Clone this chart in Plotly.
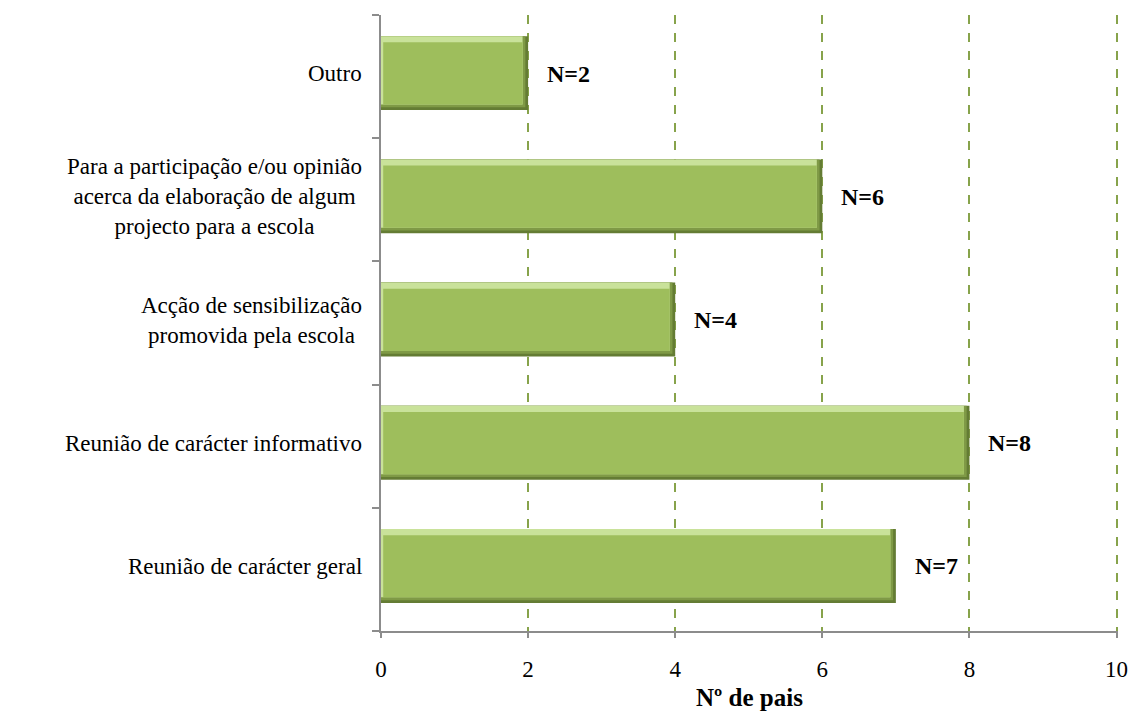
import plotly.graph_objects as go

categories = [
    "Reunião de carácter geral",
    "Reunião de carácter informativo",
    "Acção de sensibilização<br>promovida pela escola",
    "Para a participação e/ou opinião<br>acerca da elaboração de algum<br>projecto para a escola",
    "Outro",
]
values = [7, 8, 4, 6, 2]
value_labels = ["N=7", "N=8", "N=4", "N=6", "N=2"]
x_ticks = [0, 2, 4, 6, 8, 10]
x_title = "<b>Nº de pais</b>"

FONT = "Liberation Serif"
BW = 0.6          # bar thickness (category units)
SHIFT = 0.028     # small upward shift of bars within band
EDGE_B = 0.045    # bottom dark strip
EDGE_T = 0.05     # top light strip
EDGE_R = 0.075    # right dark strip (x units)
EDGE_L = 0.03     # left light strip
OFF0 = -BW / 2 + SHIFT

fig = go.Figure()
# dark base (bottom and right bevel)
fig.add_trace(go.Bar(
    y=categories, x=values, orientation="h",
    width=BW, offset=OFF0,
    marker=dict(color="#647c34", line=dict(width=0)),
    hoverinfo="skip", showlegend=False,
))
# mid-dark strip for softer bottom edge
fig.add_trace(go.Bar(
    y=categories, x=[v - EDGE_R * 0.5 for v in values], orientation="h",
    width=BW - EDGE_B * 0.5, offset=OFF0 + EDGE_B * 0.5,
    marker=dict(color="#7f9a46", line=dict(width=0)),
    hoverinfo="skip", showlegend=False,
))
# light highlight (top and left bevel)
fig.add_trace(go.Bar(
    y=categories, x=[v - EDGE_R for v in values], orientation="h",
    width=BW - EDGE_B, offset=OFF0 + EDGE_B,
    marker=dict(color="#c9e29a", line=dict(width=0)),
    hoverinfo="skip", showlegend=False,
))
# main face
fig.add_trace(go.Bar(
    y=categories, x=[v - EDGE_R - EDGE_L for v in values], base=EDGE_L,
    orientation="h",
    width=BW - EDGE_B - EDGE_T, offset=OFF0 + EDGE_B,
    marker=dict(color="#9ebe5c", line=dict(width=0)),
    hoverinfo="skip", showlegend=False,
))

annotations = []
for c, v, t in zip(categories, values, value_labels):
    annotations.append(dict(
        x=v, y=c, xref="x", yref="y", text=f"<b>{t}</b>", showarrow=False,
        xanchor="left", yanchor="middle", xshift=17, yshift=3,
        font=dict(family=FONT, size=24, color="black"),
    ))
    annotations.append(dict(
        x=0, y=c, xref="paper", yref="y", text=c, showarrow=False,
        xanchor="right", yanchor="middle", xshift=-17, yshift=3, align="center",
        font=dict(family=FONT, size=23, color="black"),
    ))
# x-axis title
annotations.append(dict(
    x=0.5, y=0, xref="paper", yref="paper", text=x_title, showarrow=False,
    xanchor="center", yanchor="middle", yshift=-66,
    font=dict(family=FONT, size=25, color="black"),
))

fig.update_layout(
    width=1127, height=704,
    margin=dict(l=373, r=17, t=7, b=81, autoexpand=False),
    paper_bgcolor="white", plot_bgcolor="white",
    barmode="overlay",
    font=dict(family=FONT, size=22, color="black"),
    annotations=annotations,
    xaxis=dict(
        range=[0, 10.02], tickvals=x_ticks, ticktext=[str(t) for t in x_ticks],
        showgrid=True, gridcolor="#87a34b", griddash="dash", gridwidth=1.5,
        zeroline=False, showline=True, linecolor="#8c8c8c", linewidth=1.5,
        ticks="outside", ticklen=5, tickcolor="#8c8c8c", tickwidth=1.5,
        ticklabelstandoff=12,
        tickfont=dict(family=FONT, size=23, color="black"),
        automargin=False,
        fixedrange=True,
    ),
    yaxis=dict(
        categoryorder="array", categoryarray=categories,
        range=[-0.5, 4.5],
        showticklabels=False, showgrid=False, zeroline=False,
        showline=True, linecolor="#8c8c8c", linewidth=1.5,
        ticks="outside", ticklen=7, tickcolor="#8c8c8c", tickwidth=1.5,
        tickson="boundaries",
        automargin=False,
        fixedrange=True,
    ),
)

fig.write_html("out.html")
